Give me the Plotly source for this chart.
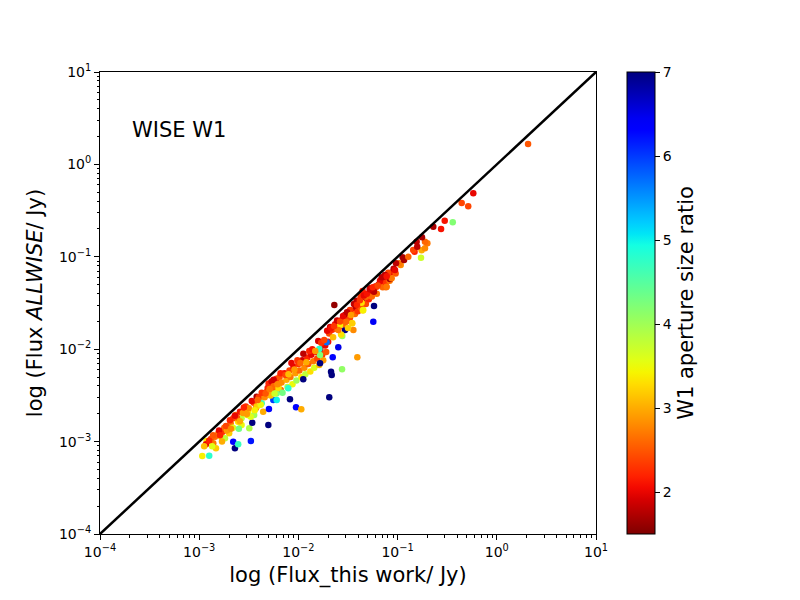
import numpy as np
import pandas as pd
import plotly.graph_objects as go

log_flux_this_work = [
    # zona baja
    -2.969, -2.899, -2.925, -2.931, -2.882, -2.858, -2.831, -2.841,
    -2.807, -2.780, -2.763, -2.740, -2.747, -2.708, -2.698, -2.683,
    -2.657, -2.640, -2.607, -2.657, -2.633, -2.607, -2.573, -2.573,
    -2.589, -2.546, -2.506, -2.495, -2.479, -2.465, -2.513, -2.446,
    -2.429, -2.421, -2.397, -2.370, -2.355, -2.320, -2.297, -2.303,
    -2.253, -2.219, -2.236, -2.177, -2.355,
    -2.90, -2.87, -2.80, -2.77, -2.72, -2.69, -2.66, -2.62,
    -2.60, -2.56, -2.53, -2.50, -2.48, -2.45, -2.42, -2.40,
    -2.38, -2.34, -2.31, -2.28, -2.26, -2.22, -2.20,
    # zona media
    -2.30, -2.29, -2.27, -2.25, -2.24, -2.22, -2.20, -2.19, -2.17, -2.16,
    -2.14, -2.12, -2.11, -2.09, -2.08, -2.06, -2.05, -2.03, -2.02, -2.00,
    -1.99, -1.97, -1.96, -1.94, -1.93, -1.91, -1.90, -1.88, -1.87, -1.85,
    -1.84, -1.82, -1.81, -1.79, -1.78, -1.76, -1.75, -1.73, -1.72, -1.70,
    # puntos alejados
    -1.782, -1.789, -1.782, -1.654, -1.671, -1.664, -1.560, -1.689,
    -1.598, -1.951, -2.085, -2.024, -1.971, -2.102, -1.716, -1.558,
    -1.530, -1.446, -1.406, -1.238, -1.245, -1.638,
    # zona alta
    -1.69, -1.68, -1.66, -1.65, -1.63, -1.62, -1.60, -1.59, -1.57, -1.56, -1.54,
    -1.53, -1.52, -1.50, -1.49, -1.48, -1.46, -1.45, -1.43, -1.42, -1.40, -1.39,
    -1.37, -1.36, -1.35, -1.33, -1.32, -1.30, -1.29, -1.27, -1.26, -1.24, -1.22,
    -1.21, -1.19, -1.17, -1.15, -1.13, -1.12, -1.10, -1.08, -1.06, -1.04, -1.02,
    -1.077, -1.177, -1.117, -1.212, -1.278, -1.238, -1.353, -1.319, -1.373,
    -1.413, -1.363, -1.346, -1.480, -1.110, -1.457, -1.520, -1.581, -1.598,
    # los mas brillantes
    -1.060, -1.094, -1.127, -1.026, -0.969, -0.983, -1.016, -0.935, -0.949,
    -0.892, -0.764, -0.758, -0.724, -0.829, -0.843, -0.802, -0.700, -0.724,
    -0.808, -0.754, -0.562, -0.640, -0.444, -0.525, -0.288, -0.354, -0.237,
    0.315,
    # relleno de la banda
    -2.95, -2.86, -2.79, -2.73, -2.68, -2.64, -2.59, -2.55, -2.52, -2.47,
    -2.44, -2.41, -2.37, -2.33, -2.29, -2.25, -2.21, -2.18, -2.13, -2.10,
    -2.07, -2.04, -2.01, -1.98, -1.95, -1.92, -1.89, -1.86, -1.83, -1.80,
    -1.77, -1.74, -1.71, -1.67, -1.64, -1.61, -1.58, -1.55, -1.51, -1.47,
    -1.44, -1.41, -1.38, -1.34, -1.31, -1.28, -1.25, -1.20, -1.16, -1.11,
]

log_flux_allwise = [
    -3.156, -3.152, -2.994, -3.030, -2.972, -3.018, -3.073, -2.947,
    -2.910, -2.947, -2.893, -2.964, -2.850, -2.839, -2.910, -2.802,
    -3.001, -3.073, -3.030, -2.748, -2.712, -2.784, -2.820, -2.748,
    -2.676, -2.640, -2.676, -2.856, -2.994, -2.795, -2.712, -2.712,
    -2.640, -2.514, -2.550, -2.586, -2.677, -2.460, -2.647, -2.820,
    -2.550, -2.550, -2.460, -2.442, -2.514,
    -2.99, -3.05, -2.88, -3.00, -2.88, -2.77, -2.85, -2.74,
    -2.86, -2.69, -2.62, -2.64, -2.73, -2.58, -2.62, -2.52,
    -2.60, -2.52, -2.42, -2.50, -2.42, -2.48, -2.38,
    -2.37, -2.45, -2.35, -2.40, -2.48, -2.32, -2.42, -2.30, -2.36, -2.47,
    -2.26, -2.33, -2.41, -2.23, -2.30, -2.38, -2.19, -2.26, -2.34, -2.16,
    -2.23, -2.30, -2.12, -2.20, -2.27, -2.09, -2.16, -2.24, -2.06, -2.13,
    -2.20, -2.03, -2.10, -2.17, -2.00, -2.06, -2.12, -1.96, -2.03, -1.92,
    -2.153, -1.998, -2.063, -2.088, -2.244, -2.279, -2.218, -2.521,
    -1.980, -2.326, -2.542, -2.629, -2.650, -2.423, -1.925, -1.857,
    -1.792, -1.792, -2.088, -1.532, -1.702, -1.522,
    -1.83, -1.76, -1.79, -1.87, -1.73, -1.78, -1.70, -1.76, -1.84, -1.68, -1.73,
    -1.63, -1.69, -1.77, -1.60, -1.66, -1.72, -1.58, -1.62, -1.54, -1.59, -1.50,
    -1.55, -1.47, -1.58, -1.44, -1.51, -1.41, -1.46, -1.38, -1.43, -1.36, -1.32,
    -1.40, -1.30, -1.27, -1.33, -1.24, -1.28, -1.20, -1.26, -1.17, -1.13, -1.18,
    -1.240, -1.259, -1.330, -1.324, -1.341, -1.378, -1.370, -1.432, -1.424,
    -1.475, -1.497, -1.576, -1.576, -1.324, -1.720, -1.702, -1.738, -1.792,
    -1.233, -1.172, -1.197, -1.143, -1.089, -1.071, -1.071, -1.035, -1.006,
    -0.999, -1.010, -0.930, -0.908, -0.945, -0.926, -0.890, -0.854, -0.836,
    -0.836, -0.789, -0.699, -0.674, -0.627, -0.609, -0.454, -0.418, -0.313,
    0.221,
    -3.05, -2.93, -2.93, -2.83, -2.86, -2.72, -2.78, -2.63, -2.70, -2.56,
    -2.66, -2.55, -2.47, -2.48, -2.43, -2.33, -2.38, -2.26, -2.28, -2.27,
    -2.15, -2.22, -2.12, -2.15, -2.05, -2.14, -2.02, -2.00, -2.02, -1.91,
    -1.93, -1.90, -1.80, -1.77, -1.75, -1.69, -1.70, -1.64, -1.60, -1.63,
    -1.51, -1.52, -1.47, -1.42, -1.40, -1.35, -1.33, -1.31, -1.22, -1.21,
]

aperture_ratio = [
    3.4, 4.8, 3.4, 2.0, 2.4, 2.7, 3.2, 2.6,
    2.7, 3.3, 2.3, 3.8, 2.6, 2.4, 3.2, 2.7,
    6.3, 7.0, 4.7, 2.4, 2.7, 3.3, 3.5, 3.8,
    2.1, 2.5, 3.4, 3.9, 6.2, 7.0, 3.3, 4.0,
    2.6, 1.7, 2.6, 4.6, 3.0, 2.6, 6.3, 7.0,
    6.0, 5.0, 3.4, 2.6, 3.9,
    2.2, 3.6, 2.0, 3.0, 2.9, 2.2, 3.6, 2.5,
    4.3, 2.9, 2.3, 2.8, 3.6, 2.4, 3.2, 2.3,
    3.5, 2.8, 2.2, 3.1, 2.5, 4.2, 2.4,
    2.2, 3.0, 1.9, 2.6, 3.7, 2.3, 3.3, 2.5, 2.8, 4.3,
    2.1, 3.0, 3.9, 2.4, 2.7, 3.5, 2.0, 2.9, 4.0, 2.3,
    2.6, 3.4, 1.9, 2.8, 3.8, 2.2, 2.5, 3.3, 2.0, 2.7,
    3.6, 2.1, 2.4, 3.1, 1.9, 2.3, 2.9, 2.0, 2.5, 2.1,
    7.0, 4.8, 4.2, 6.3, 7.0, 7.0, 4.1, 7.0,
    6.5, 7.0, 7.0, 6.3, 3.0, 4.8, 5.7, 4.0,
    7.0, 2.8, 2.9, 7.0, 6.4, 1.6,
    2.4, 1.9, 2.2, 3.1, 2.0, 2.5, 1.8, 2.3, 3.3, 2.0, 2.6,
    1.7, 2.2, 3.2, 1.9, 2.4, 3.4, 2.1, 2.6, 1.8, 2.3, 1.7,
    2.5, 2.0, 3.3, 1.8, 2.4, 1.7, 2.2, 1.9, 2.6, 1.8, 2.1,
    2.7, 1.7, 2.0, 2.6, 1.8, 2.3, 1.7, 2.7, 2.0, 1.8, 2.5,
    1.7, 2.0, 2.6, 2.3, 1.7, 1.8, 2.2, 2.6, 2.3,
    1.8, 3.3, 3.4, 2.3, 2.7, 3.2, 2.6, 3.4, 2.7,
    2.7, 2.4, 1.8, 2.0, 2.8, 2.7, 1.8, 1.7, 1.7,
    2.6, 3.7, 3.0, 2.8, 2.2, 2.4, 1.8, 2.7, 2.6,
    1.8, 1.7, 2.1, 1.7, 4.2, 2.1, 2.4, 2.4, 2.0,
    2.5,
    3.1, 2.5, 2.2, 2.4, 2.8, 2.0, 3.0, 2.2, 2.9, 2.0,
    3.4, 2.6, 2.3, 2.5, 2.7, 1.9, 2.8, 2.2, 2.4, 3.1,
    2.0, 2.9, 2.3, 2.6, 1.8, 3.0, 2.2, 2.1, 2.9, 1.9,
    2.3, 2.4, 2.0, 2.1, 2.3, 1.9, 2.4, 2.0, 1.8, 2.9,
    1.8, 2.2, 2.3, 2.0, 2.1, 1.9, 2.2, 2.4, 1.8, 2.1,
]

# recta 1:1
linea_uno = [1e-4, 1e1]
decadas = [-4, -3, -2, -1, 0, 1]
ticks_cb = [2, 3, 4, 5, 6, 7]

# DataFrame: falla si las listas no tienen la misma longitud
datos = pd.DataFrame({
    "x": np.power(10.0, log_flux_this_work),
    "y": np.power(10.0, log_flux_allwise),
    "ratio": aperture_ratio,
})

# Mapa de color jet de matplotlib, invertido (jet_r)
def jet(t):
    r = np.interp(t, [0, 0.35, 0.66, 0.89, 1], [0, 0, 1, 1, 0.5])
    g = np.interp(t, [0, 0.125, 0.375, 0.64, 0.91, 1], [0, 0, 1, 1, 0, 0])
    b = np.interp(t, [0, 0.11, 0.34, 0.65, 1], [0.5, 1, 1, 0, 0])
    return f"rgb({int(r*255)},{int(g*255)},{int(b*255)})"

escala_jet_r = [[t, jet(1 - t)] for t in np.linspace(0, 1, 41)]

valores_tick = [10.0 ** d for d in decadas]
textos_tick = [f"10<sup>{'−' if d < 0 else ''}{abs(d)}</sup>" for d in decadas]
menores = [k * 10.0 ** d for d in decadas[:-1] for k in range(2, 10)]

fig = go.Figure()

fig.add_trace(go.Scatter(
    x=datos["x"], y=datos["y"],
    mode="markers",
    marker=dict(
        size=6.5,
        color=datos["ratio"],
        colorscale=escala_jet_r,
        cmin=1.5, cmax=7,
        line=dict(width=0),
        colorbar=dict(
            title=dict(text="W1 aperture size ratio", side="right",
                       font=dict(size=21, color="black")),
            x=1.0625, xanchor="left", xref="paper", xpad=0,
            y=0.5, yanchor="middle", len=1, lenmode="fraction", ypad=0,
            thickness=28,
            outlinecolor="black", outlinewidth=1,
            tickvals=ticks_cb,
            ticks="outside", ticklen=5, tickcolor="black",
            tickfont=dict(size=14, color="black"),
        ),
    ),
    hoverinfo="x+y",
    showlegend=False,
))

fig.add_trace(go.Scatter(
    x=linea_uno, y=linea_uno, mode="lines",
    line=dict(color="black", width=2.5),
    hoverinfo="skip", showlegend=False,
))

eje = dict(
    type="log", range=[-4, 1],
    tickvals=valores_tick, ticktext=textos_tick,
    ticks="outside", ticklen=5, tickcolor="black",
    minor=dict(tickvals=menores, ticks="outside", ticklen=2.5, tickcolor="black", showgrid=False),
    showgrid=False, zeroline=False,
    showline=True, linecolor="black", linewidth=1, mirror=True,
    tickfont=dict(size=14, color="black"),
)

# la pagina desplaza el grafico 8 px (margen del body), se compensa aqui
fig.update_layout(
    width=800, height=600,
    margin=dict(l=92, r=212, t=64, b=74),
    paper_bgcolor="white", plot_bgcolor="white",
    font=dict(family="DejaVu Sans", color="black"),
    xaxis=dict(eje, title=dict(text="log (Flux_this work/ Jy)", font=dict(size=21), standoff=8)),
    yaxis=dict(eje, title=dict(text="log (Flux <i>ALLWISE</i>/ Jy)", font=dict(size=21), standoff=10)),
    annotations=[dict(
        text="WISE W1", xref="paper", yref="paper", x=0.06, y=0.874,
        xanchor="left", yanchor="middle", showarrow=False,
        font=dict(size=21, color="black"),
    )],
)

fig.write_html("out.html")
